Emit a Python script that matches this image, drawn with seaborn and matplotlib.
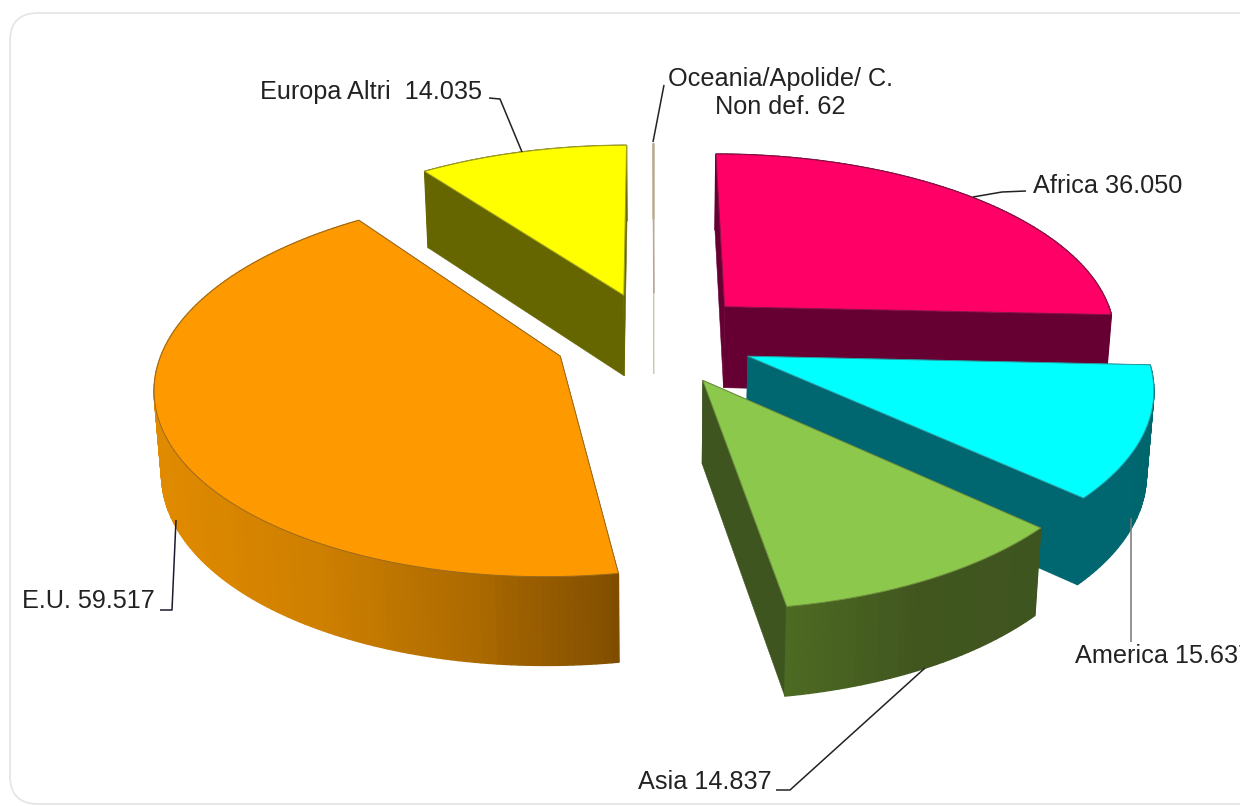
import numpy as np
import matplotlib
matplotlib.use("Agg")
import matplotlib.pyplot as plt
from matplotlib.patches import FancyBboxPatch, Polygon
import seaborn as sns

# Foreign residents by area of origin
areas = ["Africa", "America", "Asia", "E.U.", "Europa Altri", "Oceania"]
residents = [36050, 15637, 14837, 59517, 14035, 62]

top_colors = ["#FF0066", "#00FFFF", "#8CC84B", "#FF9900", "#FFFF00", "#D8CDB8"]
edge_colors = ["#8A1045", "#2A9AA0", "#6E8F40", "#9A6A20", "#A0A020", "#B5AA95"]
cut_colors = ["#660033", "#006670", "#3F5520", "#8A5200", "#666600", "#CFC5B2"]
arc_ramps = [
    ["#660033", "#660033"],
    ["#006670", "#00666E"],
    ["#4C6A22", "#41561F", "#3F5520"],
    ["#E08A00", "#CF8000", "#AE6B00", "#804D00"],
    ["#666600", "#666600"],
    ["#CFC5B2", "#CFC5B2"],
]
label_texts = ["Africa 36.050", "America 15.637", "Asia 14.837", "E.U. 59.517",
               "Europa Altri  14.035", "Oceania/Apolide/ C.\nNon def. 62"]
label_anchors = [(1033, 186, "left"), (1075, 656, "left"), (638, 782, "left"),
                 (22, 601, "left"), (260, 92, "left"), (780, 93, "center")]
leaders = [
    ([(1026, 191), (1002, 192), (973, 197)], "#222222"),
    ([(1131, 642), (1131, 518)], "#777777"),
    ([(776, 790), (790, 790), (925, 668)], "#222222"),
    ([(160, 610), (172, 610), (176, 520)], "#1A1A30"),
    ([(489, 98), (500, 99), (522, 152)], "#222222"),
    ([(664, 85), (653, 142)], "#222222"),
]
paint_order = [0, 4, 5, 3, 1, 2]

# Projection of the tilted disc onto the page, in pixels
CX, CY, RX, RY, PERSP = 654.0, 338.0, 394.0, 183.0, 0.144
EXPLODE, THICK, THICK_PERSP, FOOT_SHRINK = 0.254, 82.0, 0.07, 0.985


def project(x, y):
    w = 1 + PERSP * y
    return CX + RX * x / w, CY - RY * y / w


def drop(x, y):
    sx, sy = project(x, y)
    return CX + (sx - CX) * FOOT_SHRINK, sy + THICK / (1 + THICK_PERSP * y)


sns.set_theme(style="white")
plt.rcParams["font.family"] = ["Liberation Sans", "DejaVu Sans"]

fig = plt.figure(figsize=(12.4, 8.06), dpi=100, facecolor="white")
ax = fig.add_axes([0, 0, 1, 1])
ax.set_xlim(0, 1240)
ax.set_ylim(806, 0)
ax.axis("off")

ax.add_patch(FancyBboxPatch((10, 13), 1300, 791, boxstyle="round,pad=0,rounding_size=28",
                            fc="white", ec="#E4E4E4", lw=1.2, zorder=0))

shares = np.array(residents, dtype=float) / np.sum(residents)
ends = np.cumsum(shares) * 2 * np.pi
starts = ends - shares * 2 * np.pi

z = 1
for i in paint_order:
    a0, a1 = starts[i], ends[i]
    mid = (a0 + a1) / 2
    ox, oy = EXPLODE * np.sin(mid), EXPLODE * np.cos(mid)
    n = max(int((a1 - a0) * 60), 2)
    theta = np.linspace(a0, a1, n + 1)
    xs, ys = ox + np.sin(theta), oy + np.cos(theta)

    rim_top = np.column_stack(project(xs, ys))
    rim_low = np.column_stack(drop(xs, ys))
    apex_top = np.array(project(ox, oy))
    apex_low = np.array(drop(ox, oy))

    # Radial cut faces first, then the shaded rim, then the flat top
    for rim_t, rim_l in ((rim_top[0], rim_low[0]), (rim_top[-1], rim_low[-1])):
        ax.add_patch(Polygon([apex_top, rim_t, rim_l, apex_low], closed=True,
                             fc=cut_colors[i], ec=cut_colors[i], lw=0.4, zorder=z))

    # The rim shades from the left of the page toward the right
    ramp = sns.blend_palette(arc_ramps[i], 64)
    centers = (rim_top[:-1, 0] + rim_top[1:, 0]) / 2
    span = max(np.ptp(centers), 1.0)
    for k in range(n):
        color = ramp[int((centers[k] - centers.min()) / span * 63)]
        ax.add_patch(Polygon([rim_top[k], rim_top[k + 1], rim_low[k + 1], rim_low[k]],
                             closed=True, fc=color, ec=color, lw=1.0, zorder=z))
    z += 1
    ax.add_patch(Polygon(np.vstack([apex_top, rim_top]), closed=True, fc=top_colors[i],
                         ec=edge_colors[i], lw=0.7, zorder=z))
    z += 1

for path, color in leaders:
    px, py = zip(*path)
    ax.plot(px, py, color=color, lw=1.1, zorder=z, solid_capstyle="butt")

for text, (x, y, ha) in zip(label_texts, label_anchors):
    ax.text(x, y, text, ha=ha, va="center", fontsize=18.2, color="#222222",
            linespacing=1.2, zorder=z + 1)

fig.savefig("out.png", dpi=100, facecolor="white")
